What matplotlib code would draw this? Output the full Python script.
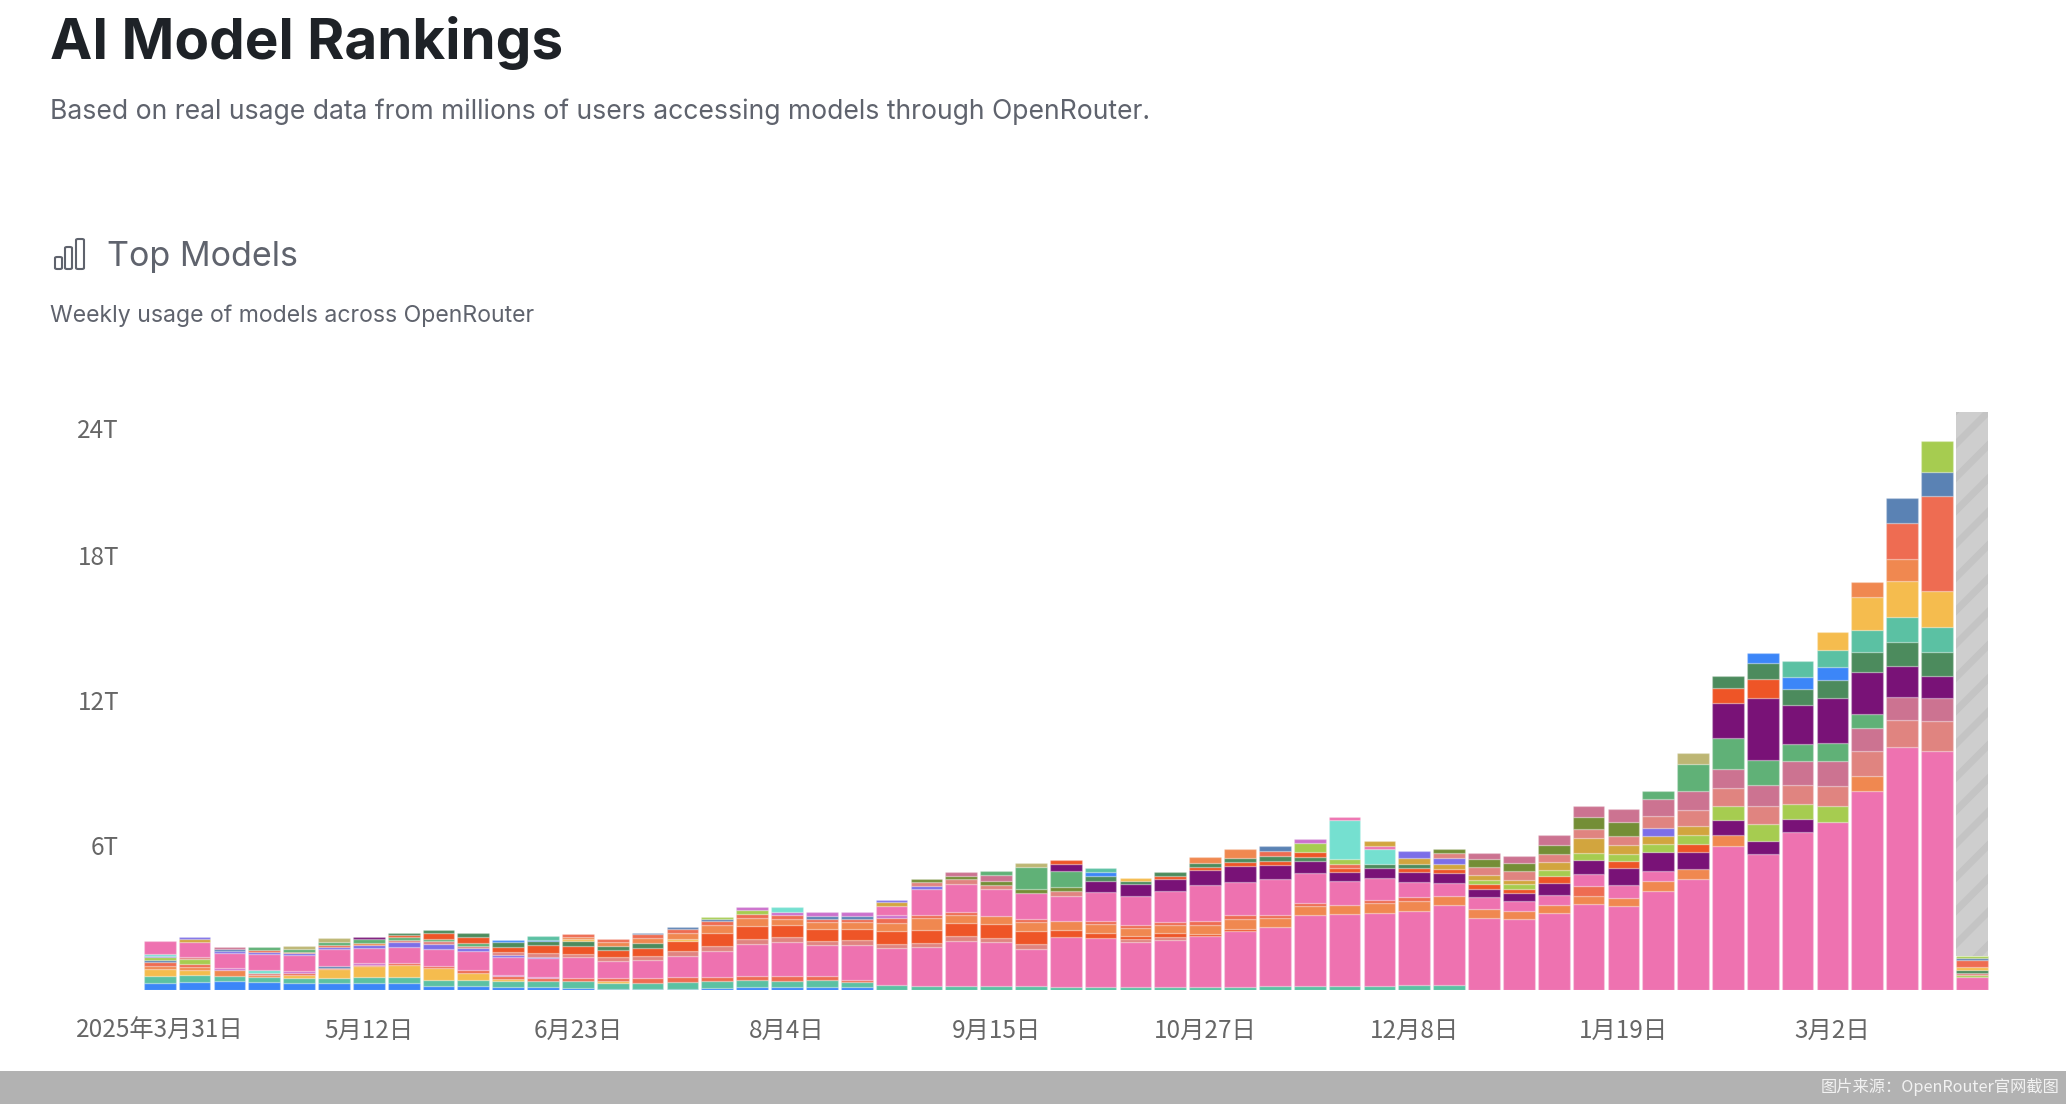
#plot.py
import matplotlib
matplotlib.use("Agg")
import matplotlib.pyplot as plt
from matplotlib.patches import Rectangle, FancyBboxPatch
from matplotlib.transforms import ScaledTranslation

W, H = 2066, 1104

colors = {
    "b": "#3C86F8", "t": "#5BC1A3", "y": "#F5BC4E", "o": "#F08850", "c": "#EE6C52",
    "p": "#EE72B0", "r": "#EE5527", "v": "#7C6EE8", "d": "#791277", "g": "#4C8B5D",
    "n": "#60B177", "l": "#A6CC50", "u": "#D2A53E", "s": "#E08480", "m": "#CC7391",
    "w": "#748E36", "k": "#BDB674", "e": "#5A82B4", "a": "#75E0D0", "h": "#CB70CC",
}

# one string per week, bottom of the stack first, one letter per segment
week_colors = [
    "btyocelvap", "btyoclspuv", "btohpvem", "btosapvcn", "btychpvonk",
    "btycepvcnk", "btychpvond", "btycpvsnrg", "btycpvsnrg", "btycpvsnrg",
    "btychpvsrgb", "btchpvsrgbt", "btcpsrgyoc", "btycpsrgoc", "btcpsrgoce",
    "btcpsryoce", "btcpsrocel", "btcpsroclh", "btcpsrocha", "btcpsroceh",
    "btcpsroceh", "tpsrochpuv", "tpsrocpvsw", "tpsrocpswm", "tpsropswmn",
    "tpsrocpwnk", "tpropswndr", "tprocpdgbt", "tpsrocpdgy", "tpsrocpdrg",
    "tprocpdrgo", "tprocpdrgo", "tpocpdrgce", "tpocpdgrlh", "tpopdrclap",
    "tpocpdgapu", "tpocpdrguv", "tpopdruvsw", "popdrluswm", "popdrluswm",
    "popdrluswm", "pocpdluswm", "popdrluswm", "popdluvsmn", "podrlusmnk",
    "podlsmndrg", "pdlsmndrgb", "pdlsmndgbt", "plsmndgbty", "posmndgtyo",
    "psmdgtyoce", "psmdgtycel", "plsgycel",
]

# weekly tokens in T, same order as week_colors
week_values = [
    [.30, .29, .26, .15, .14, .10, .11, .04, .10, .54],
    [.34, .28, .22, .12, .11, .21, .08, .63, .11, .08],
    [.39, .21, .21, .11, .63, .07, .08, .08],
    [.34, .18, .12, .08, .10, .69, .07, .08, .11],
    [.30, .19, .12, .08, .08, .66, .10, .06, .10, .12],
    [.30, .21, .34, .08, .06, .70, .10, .07, .14, .14],
    [.30, .22, .46, .06, .08, .61, .14, .08, .17, .06],
    [.30, .22, .51, .08, .69, .19, .07, .14, .06, .11],
    [.18, .23, .48, .11, .69, .22, .10, .11, .25, .12],
    [.18, .23, .29, .11, .79, .15, .08, .11, .25, .17],
    [.12, .25, .08, .12, .04, .74, .10, .11, .22, .21, .08],
    [.12, .25, .14, .04, .77, .06, .15, .33, .15, .07, .17],
    [.08, .28, .14, .88, .11, .33, .21, .10, .08, .10],
    [.04, .25, .08, .12, .70, .17, .30, .17, .14, .14],
    [.04, .23, .22, .74, .17, .34, .22, .19, .17, .04],
    [.04, .28, .23, .86, .19, .43, .10, .23, .17, .08],
    [.08, .28, .19, 1.05, .21, .55, .32, .17, .07, .10],
    [.14, .28, .18, 1.32, .17, .57, .32, .15, .17, .15],
    [.12, .26, .19, 1.42, .19, .50, .25, .17, .12, .21],
    [.14, .28, .14, 1.31, .15, .51, .28, .14, .10, .17],
    [.12, .22, .08, 1.45, .18, .47, .28, .15, .12, .14],
    [.19, 1.53, .17, .57, .33, .18, .12, .40, .14, .10],
    [.18, 1.61, .17, .54, .47, .12, 1.09, .12, .15, .14],
    [.18, 1.86, .18, .55, .33, .14, 1.16, .18, .14, .17],
    [.18, 1.82, .15, .57, .33, 1.14, .14, .18, .23, .17],
    [.17, 1.54, .18, .57, .34, .12, 1.08, .19, .90, .17],
    [.14, 2.06, .29, .36, 1.06, .18, .19, .66, .29, .15],
    [.14, 2.00, .23, .36, .14, 1.19, .47, .19, .17, .14],
    [.14, 1.83, .12, .15, .34, .12, 1.17, .51, .15, .10],
    [.14, 1.94, .12, .15, .32, .15, 1.27, .51, .11, .17],
    [.14, 2.08, .11, .34, .19, 1.48, .63, .12, .15, .26],
    [.14, 2.29, .11, .40, .18, 1.35, .68, .14, .19, .36],
    [.18, 2.41, .39, .14, 1.48, .59, .14, .22, .22, .17],
    [.18, 2.91, .37, .15, 1.24, .50, .15, .21, .37, .17],
    [.18, 2.95, .37, .99, .41, .15, .18, .19, 1.60, .15],
    [.18, 3.02, .39, .15, .90, .41, .18, .59, .15, .21],
    [.19, 3.06, .44, .17, .62, .41, .17, .17, .22, .32],
    [.19, 3.31, .41, .52, .41, .17, .22, .23, .19, .18],
    [2.97, .37, .50, .36, .17, .19, .19, .32, .37, .22],
    [2.92, .34, .41, .34, .17, .22, .17, .34, .34, .30],
    [3.17, .34, .41, .52, .26, .25, .34, .32, .40, .39],
    [3.54, .37, .39, .48, .59, .28, .66, .34, .51, .46],
    [3.46, .36, .54, .70, .28, .29, .36, .40, .58, .52],
    [4.10, .39, .44, .76, .34, .36, .30, .51, .69, .36],
    [4.58, .43, .72, .32, .36, .36, .68, .77, 1.14, .46],
    [5.97, .44, .62, .57, .74, .79, 1.30, 1.43, .62, .52],
    [5.63, .54, .68, .76, .86, 1.03, 2.57, .79, .66, .44],
    [6.54, .52, .62, .79, 1.02, .69, 1.63, .63, .52, .65],
    [6.97, .63, .83, 1.03, .76, 1.86, .76, .54, .68, .76],
    [8.25, .59, 1.03, .99, .57, 1.74, .83, .90, 1.35, .65],
    [10.04, 1.13, .95, 1.30, .97, 1.03, 1.50, .90, 1.50, 1.02],
    [9.88, 1.24, .97, .92, .98, 1.03, 1.50, 3.94, .97, 1.30],
    [.55, .07, .10, .10, .14, .28, .07, .08],
]

incomplete_week = 52
incomplete_top = 23.9

y_ticks = [6, 12, 18, 24]
y_labels = ["6T", "12T", "18T", "24T"]
x_ticks = [0, 6, 12, 18, 24, 30, 36, 42, 48]
x_labels = ["2025年3月31日", "5月12日", "6月23日", "8月4日", "9月15日",
            "10月27日", "12月8日", "1月19日", "3月2日"]

plt.rcParams["font.family"] = ["Inter", "DejaVu Sans"]
plt.rcParams["hatch.linewidth"] = 5

fig = plt.figure(figsize=(W / 100, H / 100), dpi=100, facecolor="white")
ax = fig.add_axes([142 / W, (H - 990) / H, 1848 / W, 580 / H])

edge = (1, 1, 1, 0.22)
for i in range(len(week_values)):
    bottom = 0
    for code, val in zip(week_colors[i], week_values[i]):
        ax.bar(i, val, 0.91, bottom=bottom, color=colors[code], edgecolor=edge, linewidth=1)
        bottom += val
    if i == incomplete_week:
        ax.bar(i, incomplete_top - bottom, 0.91, bottom=bottom, facecolor="#CECECE",
               edgecolor="#C4C4C4", hatch="/", linewidth=0)

ax.set_xlim(-0.508, 52.52)
ax.set_ylim(0, 24)
for s in ax.spines.values():
    s.set_visible(False)

cjk = ["Noto Sans CJK SC", "DejaVu Sans"]
ax.set_xticks(x_ticks)
ax.set_xticklabels(x_labels, family=cjk, fontsize=17.5, color="#666666")
ax.set_yticks(y_ticks)
ax.set_yticklabels(y_labels, family=cjk, fontsize=17.5, color="#666666")
ax.tick_params(axis="x", length=0, pad=20)
ax.tick_params(axis="y", length=0, pad=16.5)

# top label sits a bit below its tick in the original
top_label = ax.get_yticklabels()[-1]
top_label.set_transform(top_label.get_transform() + ScaledTranslation(0, -18 / 100, fig.dpi_scale_trans))

# header text
fig.text(50 / W, 1 - 59 / H, "AI Model Rankings", fontsize=40.8, fontweight="bold", color="#1E2227")
fig.text(50 / W, 1 - 119 / H, "Based on real usage data from millions of users accessing models through OpenRouter.",
         fontsize=19.1, color="#5F636D")
fig.text(107 / W, 1 - 266 / H, "Top Models", fontsize=24.5, color="#5F636D")
fig.text(50 / W, 1 - 322 / H, "Weekly usage of models across OpenRouter", fontsize=16.6, color="#5F636D")

# bar chart icon, three outlined bars
for x0, y0, w, h in [(55, 257, 7, 12), (65, 247, 7, 22), (76, 239, 8, 30)]:
    fig.add_artist(FancyBboxPatch((x0 / W, 1 - (y0 + h) / H), w / W, h / H,
                                  boxstyle="round,pad=0,rounding_size=0.001", transform=fig.transFigure,
                                  facecolor="none", edgecolor="#5F636D", linewidth=1.5))

# footer band
fig.add_artist(Rectangle((0, 0), 1, (H - 1071) / H, transform=fig.transFigure, facecolor="#B2B2B2", edgecolor="none"))
fig.text(2060 / W, 1 - 1087 / H, "图片来源：OpenRouter官网截图", family=cjk, fontsize=11.7,
         color="#F2F2F2", ha="right", va="center")

fig.savefig("out.png", dpi=100)
